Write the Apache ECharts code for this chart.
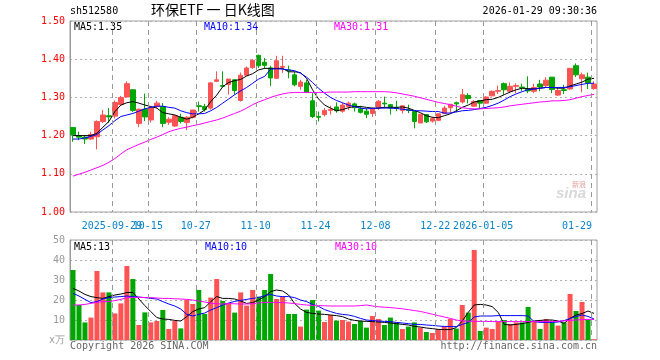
<!DOCTYPE html>
<html><head><meta charset="utf-8">
<script src="https://cdn.jsdelivr.net/npm/echarts@6/dist/echarts.min.js"></script>
<style>html,body{margin:0;padding:0;background:#fff}#c{width:660px;height:360px}</style>
</head><body><div id="c"></div>
<script>
const dates = ['2025-09-18','2025-09-19','2025-09-22','2025-09-23','2025-09-24','2025-09-25','2025-09-26','2025-09-29','2025-09-30',
'2025-10-09','2025-10-10','2025-10-13','2025-10-14','2025-10-15','2025-10-16','2025-10-17','2025-10-20','2025-10-21','2025-10-22','2025-10-23','2025-10-24','2025-10-27','2025-10-28','2025-10-29','2025-10-30','2025-10-31',
'2025-11-03','2025-11-04','2025-11-05','2025-11-06','2025-11-07','2025-11-10','2025-11-11','2025-11-12','2025-11-13','2025-11-14','2025-11-17','2025-11-18','2025-11-19','2025-11-20','2025-11-21','2025-11-24','2025-11-25','2025-11-26','2025-11-27','2025-11-28',
'2025-12-01','2025-12-02','2025-12-03','2025-12-04','2025-12-05','2025-12-08','2025-12-09','2025-12-10','2025-12-11','2025-12-12','2025-12-15','2025-12-16','2025-12-17','2025-12-18','2025-12-19','2025-12-22','2025-12-23','2025-12-24','2025-12-25','2025-12-26','2025-12-29','2025-12-30','2025-12-31',
'2026-01-05','2026-01-06','2026-01-07','2026-01-08','2026-01-09','2026-01-12','2026-01-13','2026-01-14','2026-01-15','2026-01-16','2026-01-19','2026-01-20','2026-01-21','2026-01-22','2026-01-23','2026-01-26','2026-01-27','2026-01-28','2026-01-29'];

// open, close, low, high
const ohlc = [
[1.221,1.202,1.184,1.222],[1.199,1.196,1.188,1.210],[1.196,1.191,1.178,1.202],[1.191,1.203,1.189,1.210],[1.197,1.237,1.164,1.240],
[1.237,1.254,1.233,1.267],[1.252,1.249,1.233,1.272],[1.251,1.287,1.245,1.292],[1.281,1.300,1.278,1.304],[1.301,1.336,1.301,1.342],
[1.320,1.266,1.262,1.322],[1.232,1.269,1.222,1.271],[1.269,1.249,1.238,1.310],[1.241,1.273,1.234,1.274],[1.276,1.285,1.271,1.291],
[1.276,1.232,1.222,1.285],[1.235,1.243,1.228,1.248],[1.225,1.252,1.223,1.255],[1.248,1.237,1.232,1.257],[1.234,1.248,1.214,1.251],
[1.248,1.267,1.245,1.267],[1.278,1.276,1.263,1.289],[1.276,1.268,1.263,1.283],[1.272,1.338,1.268,1.340],[1.342,1.346,1.340,1.368],
[1.331,1.329,1.327,1.368],[1.334,1.348,1.307,1.348],[1.346,1.318,1.307,1.348],[1.292,1.358,1.289,1.365],[1.358,1.377,1.356,1.381],
[1.378,1.397,1.375,1.400],[1.410,1.383,1.377,1.412],[1.392,1.384,1.375,1.403],[1.377,1.351,1.330,1.383],[1.350,1.396,1.348,1.409],
[1.379,1.381,1.364,1.409],[1.372,1.370,1.350,1.383],[1.359,1.333,1.329,1.368],[1.329,1.340,1.320,1.346],[1.338,1.313,1.311,1.346],
[1.291,1.250,1.246,1.311],[1.250,1.248,1.237,1.263],[1.255,1.266,1.250,1.272],[1.266,1.268,1.255,1.278],[1.275,1.265,1.260,1.287],
[1.264,1.280,1.260,1.286],[1.276,1.285,1.267,1.289],[1.283,1.273,1.263,1.286],[1.270,1.261,1.258,1.278],[1.264,1.256,1.246,1.272],
[1.258,1.269,1.249,1.274],[1.273,1.290,1.267,1.293],[1.285,1.283,1.271,1.302],[1.281,1.272,1.255,1.281],[1.273,1.271,1.264,1.291],
[1.266,1.278,1.258,1.278],[1.268,1.266,1.259,1.281],[1.263,1.237,1.219,1.263],[1.233,1.256,1.233,1.256],[1.255,1.236,1.233,1.255],
[1.238,1.245,1.234,1.249],[1.240,1.257,1.238,1.257],[1.258,1.272,1.256,1.278],[1.273,1.282,1.259,1.282],[1.286,1.283,1.261,1.289],
[1.288,1.307,1.284,1.322],[1.305,1.297,1.284,1.311],[1.277,1.289,1.276,1.293],[1.292,1.285,1.271,1.293],[1.285,1.301,1.283,1.303],
[1.304,1.316,1.303,1.318],[1.316,1.318,1.309,1.331],[1.336,1.320,1.307,1.339],[1.316,1.329,1.312,1.339],[1.329,1.331,1.311,1.337],
[1.327,1.325,1.316,1.336],[1.322,1.317,1.311,1.355],[1.316,1.326,1.311,1.336],[1.335,1.327,1.316,1.346],[1.331,1.345,1.327,1.353],
[1.353,1.321,1.311,1.353],[1.306,1.318,1.304,1.327],[1.320,1.318,1.309,1.333],[1.322,1.376,1.320,1.376],[1.383,1.359,1.353,1.389],
[1.349,1.359,1.313,1.365],[1.353,1.338,1.322,1.365],[1.323,1.335,1.320,1.342]];

const ma5 = [1.200,1.200,1.200,1.200,1.206,1.222,1.237,1.263,1.280,1.286,1.289,1.285,1.280,1.276,1.272,1.260,1.257,1.254,1.248,1.243,
1.248,1.257,1.267,1.289,1.306,1.328,1.339,1.344,1.347,1.356,1.362,1.372,1.376,1.376,1.376,1.376,1.367,1.367,1.365,1.350,
1.320,1.296,1.280,1.272,1.265,1.268,1.273,1.276,1.276,1.274,1.272,1.272,1.274,1.274,1.274,1.275,1.272,1.266,1.260,1.252,
1.248,1.247,1.252,1.257,1.265,1.274,1.280,1.288,1.291,1.294,1.295,1.300,1.307,1.314,1.320,1.324,1.323,1.322,1.324,1.326,
1.326,1.324,1.324,1.330,1.335,1.340,1.348,1.350];
const ma10 = [1.191,1.191,1.194,1.198,1.203,1.215,1.226,1.239,1.250,1.254,1.258,1.264,1.270,1.274,1.277,1.277,1.274,1.272,1.265,1.260,
1.257,1.257,1.258,1.265,1.274,1.285,1.296,1.307,1.317,1.326,1.337,1.348,1.355,1.374,1.375,1.374,1.372,1.370,1.363,1.353,
1.339,1.324,1.311,1.300,1.292,1.286,1.280,1.276,1.272,1.270,1.271,1.272,1.272,1.272,1.271,1.269,1.267,1.265,1.265,1.264,
1.263,1.263,1.259,1.259,1.262,1.265,1.266,1.268,1.271,1.274,1.279,1.285,1.293,1.302,1.309,1.315,1.320,1.322,1.324,1.326,
1.326,1.326,1.326,1.328,1.331,1.334,1.337,1.337];
const ma30 = [1.094,1.099,1.104,1.110,1.116,1.122,1.130,1.140,1.152,1.163,1.170,1.177,1.183,1.190,1.196,1.203,1.210,1.215,1.219,1.222,
1.226,1.229,1.233,1.237,1.241,1.246,1.252,1.258,1.264,1.272,1.281,1.288,1.294,1.300,1.305,1.309,1.312,1.313,1.313,1.313,
1.313,1.313,1.313,1.314,1.314,1.314,1.314,1.315,1.315,1.315,1.315,1.315,1.315,1.314,1.312,1.309,1.306,1.303,1.299,1.295,
1.291,1.287,1.284,1.281,1.277,1.273,1.271,1.270,1.270,1.271,1.272,1.273,1.275,1.278,1.280,1.282,1.284,1.286,1.288,1.289,
1.291,1.291,1.292,1.294,1.298,1.302,1.305,1.308];

const volume = [35,17.5,8.8,11.2,34.5,23.8,23.8,13.3,18.3,37,30.5,7.5,13.8,8.8,9.5,15,5.5,9.5,5.8,20,
18,25,13,21.2,30.5,19.5,18.3,13.7,23.8,17.2,25,21.7,25,33,20.5,21.7,13,13,6.7,15.2,
20,14.7,9,12.5,9.7,10,9.2,8,9.5,6.2,12,10.5,7.5,11.2,8.7,5.5,6.7,8.8,6.2,4,
3.5,5.5,7,10.5,5.7,17.5,13.7,45,4.5,6.2,5.5,9.2,10,8,8.8,8.8,16.5,9.2,5.5,10.5,
8.8,7.2,8.8,23,14.5,19,10.3,0.4];
const vma5 = [25.8,24.5,22.8,21.7,21.2,20.8,21.7,22.5,23,23.7,23.8,20.5,17.2,14.2,11.2,10.5,10.3,9.8,9.5,11.7,
14.2,15.5,16.2,19.2,21.7,20.8,20.8,20.5,19.5,18.3,18.7,20,21.7,24.2,25,24.5,22.5,18.3,15.5,13.8,
13.3,13,12.8,12.5,12.2,11.7,10.5,9.8,9.5,9.3,9.2,9,8.8,8.5,8.2,7.8,7.5,6.8,6.5,6,
5.7,5.3,5.2,5.2,6.2,9.5,13.8,17.5,17.8,17.5,16.7,13.8,7.8,7.5,7.8,8.2,8.8,9.5,9.8,10,
10,9.5,8.3,10.8,12.5,13.2,14.5,13.3];
const vma10 = [23.3,22,20.3,18.7,19.2,20.5,21.2,21.5,21.7,22,21.7,21.5,21.2,20.8,20.5,19.2,18,17,15.5,12.8,
12,12.8,13.5,15,16.2,17.5,18.5,19.3,19.8,20.3,20.8,21.2,22.2,22.8,22,21.7,21.7,21.2,20,19.2,
17.8,16.8,15.2,14.2,13.3,12.8,12.5,11.8,10.8,10,9.7,9.5,9.3,9.2,8.8,8.5,8.2,7.8,7.8,7.5,
7.3,7,6.8,6.7,6.7,7.8,8.8,11.5,12,12,12,12.2,12.2,12.2,12.2,12.2,12,9.2,8.8,8.8,
8.8,9,9.7,10.8,11.7,12.5,11.8,10.5];
const vma30 = [17.5,17.5,17.8,18.3,18.8,19.2,19.2,19.7,20.3,21.2,21.3,21.3,21.2,21.2,21,20.8,20.8,20.6,20.5,20.3,
20,19.5,19,18.4,18.1,18,18.2,18.1,18,18,18.1,18.5,18.8,18.8,18.8,18.7,18.5,18.2,17.8,17.5,
17.3,17.2,17.1,17,17,17,17,17,17.2,17.5,17,16.6,16.4,16.2,15.9,15.6,15.2,14.7,14.3,13.6,
12.9,12.2,11.5,10.8,10,9.5,9.4,9.3,9.3,9.3,9.2,9.2,9.2,9.2,9.2,9.2,9.2,9.2,9.2,9.2,
9.2,9.4,9.6,9.8,10,10.2,10.3,10.3];

const tickDates = ['2025-09-29','2025-10-15','2025-10-27','2025-11-10','2025-11-24','2025-12-08','2025-12-22','2026-01-05','2026-01-29'];
const tickTexts = ['2025-09-29','10-15','10-27','11-10','11-24','12-08','12-22','2026-01-05','01-29'];
const priceTicks = ['1.00','1.10','1.20','1.30','1.40','1.50'];
const volTicks = ['x万','10','20','30','40','50'];

const UP = '#ff5353', DOWN = '#00a600';
const MONO = "'DejaVu Sans Mono', 'Liberation Mono', monospace";
const FS = 10;
const LBL = '#0a84c8';

const candleData = ohlc.map(d => [d[0], d[1], d[2], d[3]]);
const volData = volume.map((v, i) => ({value: v, itemStyle: {color: ohlc[i][1] >= ohlc[i][0] ? UP : DOWN}}));

const labelFmt = (v) => { const k = tickDates.indexOf(v); const t = tickTexts[k]; return k === tickDates.length - 1 ? '{b|' + t + '}' : '{a|' + t + '}'; };
const labelRich = {a: {padding: [0, 6, 0, 0], color: LBL, fontFamily: MONO, fontSize: FS},
                   b: {padding: [0, 34, 0, 0], color: LBL, fontFamily: MONO, fontSize: FS}};

// vertical dashed grid lines at the left edge of each tick date's band
const vLines = (xi, yi, yv) => ({
  type: 'custom', xAxisIndex: xi, yAxisIndex: yi, z: 10,
  data: tickDates.map(d => [d, yv]),
  renderItem: (params, api) => {
    const c = api.coord([api.value(0), api.value(1)]);
    const w = api.size([1, 0])[0];
    const cs = params.coordSys;
    const x = Math.round(c[0] - w / 2) + 0.5;
    return {type: 'line', shape: {x1: x, y1: cs.y, x2: x, y2: cs.y + cs.height},
            style: {stroke: '#999999', lineWidth: 1, lineDash: [5, 4]}};
  }
});

const chart = echarts.init(document.getElementById('c'));
const lineS = (name, data, color, xi, yi) => ({name, type: 'line', data, xAxisIndex: xi, yAxisIndex: yi, symbol: 'none',
  lineStyle: {color, width: 1}, itemStyle: {color}, silent: true, z: 5});

chart.setOption({
  animation: false,
  grid: [
    {left: 70, right: 63, top: 21, height: 191, show: true, borderColor: '#a0a0a0'},
    {left: 70, right: 63, top: 240, height: 100, show: true, borderColor: '#a0a0a0'}
  ],
  xAxis: [
    {type: 'category', data: dates, gridIndex: 0, boundaryGap: true,
     axisLine: {show: false}, axisTick: {show: false}, splitLine: {show: false},
     axisLabel: {show: true, hideOverlap: false, margin: 9, color: LBL, fontFamily: MONO, fontSize: FS,
       interval: (i) => tickDates.indexOf(dates[i]) > 0, formatter: labelFmt, rich: labelRich}},
    {type: 'category', data: dates, gridIndex: 1, boundaryGap: true,
     axisLine: {show: false}, axisTick: {show: false}, axisLabel: {show: false}, splitLine: {show: false}},
    {type: 'category', data: dates, gridIndex: 0, boundaryGap: true, position: 'bottom',
     axisLine: {show: false}, axisTick: {show: false}, splitLine: {show: false},
     axisLabel: {show: true, hideOverlap: false, margin: 9, color: LBL, fontFamily: MONO, fontSize: FS,
       interval: (i) => tickDates.indexOf(dates[i]) === 0, formatter: labelFmt, rich: labelRich}}
  ],
  yAxis: [
    {type: 'value', gridIndex: 0, min: 1.0, max: 1.5, interval: 0.1,
     axisLine: {show: true, lineStyle: {color: '#999'}}, axisTick: {show: false},
     splitLine: {show: true, lineStyle: {color: '#b0b0b0', type: [2, 3]}},
     axisLabel: {color: '#ff0000', fontFamily: MONO, fontSize: FS, margin: 5,
       formatter: (v) => priceTicks[Math.round((v - 1.0) * 10)]}},
    {type: 'value', gridIndex: 1, min: 0, max: 50, interval: 10,
     axisLine: {show: true, lineStyle: {color: '#999'}}, axisTick: {show: false},
     splitLine: {show: true, lineStyle: {color: '#b0b0b0', type: [2, 3]}},
     axisLabel: {color: '#999', fontFamily: MONO, fontSize: FS, margin: 5,
       formatter: (v) => volTicks[Math.round(v / 10)]}}
  ],
  series: [
    {name: 'K', type: 'candlestick', data: candleData, xAxisIndex: 0, yAxisIndex: 0, barWidth: 5,
     itemStyle: {color: UP, color0: DOWN, borderColor: UP, borderColor0: DOWN, borderWidth: 1}, z: 3},
    lineS('MA5', ma5, '#000000', 0, 0),
    lineS('MA10', ma10, '#0000ff', 0, 0),
    lineS('MA30', ma30, '#ff00ff', 0, 0),
    {name: 'VOL', type: 'bar', data: volData, xAxisIndex: 1, yAxisIndex: 1, barWidth: 5, z: 3},
    lineS('VMA5', vma5, '#000000', 1, 1),
    lineS('VMA10', vma10, '#0000ff', 1, 1),
    lineS('VMA30', vma30, '#ff00ff', 1, 1),
    vLines(0, 0, 1.25),
    vLines(1, 1, 25)
  ],
  graphic: [
    {type: 'text', left: 70, top: 6, style: {text: 'sh512580', font: FS + 'px ' + MONO, fill: '#000'}},
    {type: 'text', left: 151, top: 3, style: {text: '环保ETF 一 日K线图', font: '14px "Noto Sans CJK SC"', fill: '#000'}},
    {type: 'text', right: 63, top: 6, style: {text: '2026-01-29 09:30:36', font: FS + 'px ' + MONO, fill: '#000'}},
    {type: 'text', left: 74, top: 22, style: {text: 'MA5:' + ma5[ma5.length - 1].toFixed(2), font: FS + 'px ' + MONO, fill: '#000'}},
    {type: 'text', left: 204, top: 22, style: {text: 'MA10:' + ma10[ma10.length - 1].toFixed(2), font: FS + 'px ' + MONO, fill: '#0000ff'}},
    {type: 'text', left: 334, top: 22, style: {text: 'MA30:' + ma30[ma30.length - 1].toFixed(2), font: FS + 'px ' + MONO, fill: '#ff00ff'}},
    {type: 'text', left: 74, top: 242, style: {text: 'MA5:13', font: FS + 'px ' + MONO, fill: '#000'}},
    {type: 'text', left: 205, top: 242, style: {text: 'MA10:10', font: FS + 'px ' + MONO, fill: '#0000ff'}},
    {type: 'text', left: 335, top: 242, style: {text: 'MA30:10', font: FS + 'px ' + MONO, fill: '#ff00ff'}},
    {type: 'text', left: 70, top: 341, style: {text: 'Copyright 2026 SINA.COM', font: FS + 'px ' + MONO, fill: '#666'}},
    {type: 'text', right: 63, top: 341, style: {text: 'http://finance.sina.com.cn', font: FS + 'px ' + MONO, fill: '#666'}},
    {type: 'text', left: 556, top: 186, style: {text: 'sina', font: 'italic bold 15px "Liberation Sans"', fill: '#d8d8d8'}},
    {type: 'text', left: 572, top: 181, style: {text: '新浪', font: '7px "Noto Sans CJK SC"', fill: '#e0a0a0'}}
  ]
});
</script></body></html>
